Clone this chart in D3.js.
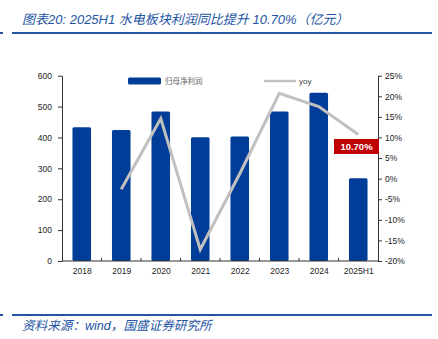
<!DOCTYPE html>
<html><head><meta charset="utf-8">
<script src="https://cdn.jsdelivr.net/npm/d3@7"></script>
<style>body{margin:0;background:#fff}svg{display:block}</style>
</head><body>
<script>
const categories = ["2018","2019","2020","2021","2022","2023","2024","2025H1"];
const profit = [433, 424, 484, 401, 403, 484, 545, 268];
const yoy = [null, -2.6, 14.6, -17.2, 1.2, 20.7, 17.5, 10.7];
const leftTicks = [0,100,200,300,400,500,600];
const rightTicks = [-20,-15,-10,-5,0,5,10,15,20,25];
const seriesNames = ["归母净利润","yoy"];
const title = "图表20:  2025H1 水电板块利润同比提升 10.70%（亿元）";
const source = "资料来源：wind，国盛证券研究所";
const highlight = "10.70%";

const W=438,H=339;
const svg=d3.select("body").append("svg").attr("width",W).attr("height",H);
const blue="#003d99", grey="#c0c0c0", hdr="#2454a4";

svg.append("text").attr("x",22).attr("y",24).attr("fill",hdr)
  .style("font-family","'Liberation Sans','Noto Sans CJK SC',sans-serif").style("font-style","italic")
  .style("font-size","13px").text(title);
svg.append("rect").attr("x",0).attr("y",32).attr("width",3).attr("height",2).attr("fill",hdr);
svg.append("rect").attr("x",12).attr("y",32).attr("width",420).attr("height",2).attr("fill",hdr);
svg.append("rect").attr("x",0).attr("y",314).attr("width",3).attr("height",2).attr("fill",hdr);
svg.append("rect").attr("x",12).attr("y",314).attr("width",420).attr("height",2).attr("fill",hdr);
svg.append("text").attr("x",22).attr("y",330).attr("fill",hdr)
  .style("font-family","'Liberation Sans','Noto Sans CJK SC',sans-serif").style("font-style","italic")
  .style("font-size","12.6px").text(source);

const x0=62,x1=378,yTop=75.7,yBot=261;
const x=d3.scaleBand().domain(categories).range([x0,x1]).paddingInner(0.53).paddingOuter(0.265);
const yL=d3.scaleLinear().domain([0,600]).range([yBot,yTop]);
const yR=d3.scaleLinear().domain([-20,25]).range([yBot,yTop]);

svg.selectAll("rect.bar").data(profit).enter().append("rect").attr("class","bar")
  .attr("x",(d,i)=>x(categories[i])).attr("width",x.bandwidth())
  .attr("y",d=>yL(d)).attr("height",d=>yBot-yL(d)).attr("rx",1.5).attr("fill",blue);

const font="'Liberation Sans','DejaVu Sans',sans-serif";
const axL=svg.append("g").attr("transform",`translate(${x0},0)`)
  .call(d3.axisLeft(yL).tickValues(leftTicks).tickSize(4).tickSizeOuter(0).tickPadding(6));
const axR=svg.append("g").attr("transform",`translate(${x1},0)`)
  .call(d3.axisRight(yR).tickValues(rightTicks).tickSize(4).tickSizeOuter(0).tickPadding(3).tickFormat(d=>d+"%"));
const xStep=x.step();
const axB=svg.append("g").attr("transform",`translate(0,${yBot})`)
  .call(d3.axisBottom(d3.scalePoint().domain(categories).range([x0+xStep/2,x1-xStep/2])).tickSize(0).tickPadding(7));
const bounds=d3.range(1,categories.length).map(i=>x0+i*xStep);
svg.selectAll("line.bt").data(bounds).enter().append("line").attr("class","bt")
  .attr("x1",d=>d).attr("x2",d=>d).attr("y1",yBot-3).attr("y2",yBot).attr("stroke","#333");
[axL,axR,axB].forEach(a=>{
  a.selectAll("path").attr("stroke","#333");
  a.selectAll("line").attr("stroke","#333");
  a.selectAll("text").style("font-family",font).style("font-size","8.5px").attr("fill","#222");
});
axB.select("path").attr("d",`M${x0},0H${x1}`);

const line=d3.line().defined(d=>d!=null).x((d,i)=>x(categories[i])+x.bandwidth()/2).y(d=>yR(d));
svg.append("path").datum(yoy).attr("d",line).attr("fill","none").attr("stroke",grey).attr("stroke-width",3);

svg.append("rect").attr("x",128).attr("y",77.5).attr("width",33).attr("height",7).attr("rx",1.5).attr("fill",blue);
svg.append("text").attr("x",165).attr("y",84).attr("fill","#666").style("font-family","'Noto Sans CJK SC',sans-serif")
  .style("font-size","7.5px").text(seriesNames[0]);
svg.append("line").attr("x1",264).attr("x2",296).attr("y1",81).attr("y2",81).attr("stroke",grey).attr("stroke-width",2.5);
svg.append("text").attr("x",299).attr("y",84).attr("fill","#444").style("font-family",font)
  .style("font-size","8px").text(seriesNames[1]);

svg.append("rect").attr("x",334).attr("y",139).attr("width",45).attr("height",15).attr("fill","#c00000");
svg.append("text").attr("x",356.5).attr("y",150).attr("text-anchor","middle").attr("fill","#fff")
  .style("font-family",font).style("font-weight","bold").style("font-size","9.5px").text(highlight);
</script>
</body></html>
